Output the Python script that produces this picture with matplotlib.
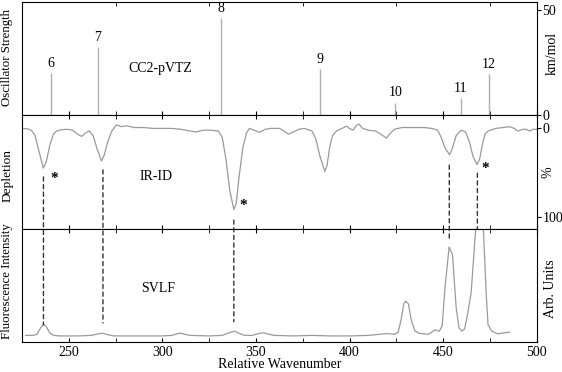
import matplotlib
matplotlib.use('Agg')
import matplotlib.pyplot as plt
from matplotlib.patches import ConnectionPatch
from matplotlib.ticker import MultipleLocator

plt.rcParams['font.family'] = ['Liberation Serif', 'DejaVu Serif']
plt.rcParams['font.size'] = 10

# calculated sticks (CC2-pVTZ)
stick_pos = [240.3, 265.4, 331.4, 384.5, 424.5, 459.4, 474.5]
stick_int = [20, 32.5, 46, 21.7, 6, 8, 19.5]
stick_lab = ['6', '7', '8', '9', '10', '11', '12']

# IR-ID depletion trace
dep_x = [225, 228, 230, 232, 234, 236.4, 238, 240, 242, 243.5, 246, 249, 252, 255, 257, 259,
         261, 263, 265, 267.5, 269, 271, 273, 275.5, 278, 281, 285, 290, 295, 300, 305, 310,
         315, 318, 322, 326, 330, 332, 334, 336, 338.2, 339.5, 341, 343, 345, 346.5, 349, 352,
         355, 358, 362.7, 365, 367.4, 370, 373, 376, 380, 382, 384, 386.8, 388, 389.5, 391,
         393, 396, 398.4, 400, 401.9, 403.5, 405, 407, 410, 414, 417, 419.7, 422, 424, 428,
         435, 440, 444, 447, 449, 451, 453.5, 455, 457, 459.7, 462, 464, 466, 468.1, 469.5,
         471, 472.5, 474, 478, 482, 485.5, 488, 490, 492.6, 494.5, 496.2, 498, 500]
dep_y = [0, 0.5, 2, 8, 25, 45, 38, 18, 6, 3, 1.5, 1, 2, 7, 9, 5,
         3, 8, 22, 37, 30, 14, 3, -4, -2, -3, -1, -1, 0, 0, 0, 1,
         3, 4, 2, 2, 3, 10, 35, 70, 92, 85, 55, 22, 5, 0, 2, 4.5,
         1, 0, 0, 3, 6.5, 4, 1, 0, 3, 12, 30, 49, 42, 20, 8,
         3, 0, -2.6, 0, 2, -3, -5, 0, 2, 3, 7, 11, 5, 1, -1,
         -1, -1, 0, 2, 10, 22, 30, 22, 8, 2, 4, 15, 32, 41, 35,
         18, 6, 3, 0, -1, -2, 0, 3, 1, 1, 3, 1, 1]
asterisks = [(242, 57), (343.2, 88), (472.6, 45.5)]

# SVLF trace
flu_x = [227, 231, 233, 235, 236.5, 238, 240, 242, 245, 255, 262, 266, 268, 270, 274, 285,
         300, 305, 308, 310, 312, 315, 325, 332, 335, 338.5, 341, 344, 348, 351, 354, 357,
         360, 370, 380, 390, 400, 410, 416, 420, 424, 426, 427.5, 429, 430, 431.5, 433, 435,
         437, 442, 444, 445.5, 448, 449.5, 451, 453.2, 455, 457, 458.5, 460, 461.5, 463, 465,
         467, 468.5, 470, 471.5, 473, 474, 476, 479.3, 483, 485.5]
flu_y = [1, 1, 2, 8, 11.3, 9, 3, 1, 0.5, 0.5, 1, 2.5, 3, 2, 0.5, 0.5,
         0.5, 1, 2.5, 3, 2, 1, 0.5, 1, 3, 5, 3, 1, 1, 2.5, 3.5, 2,
         1, 0.5, 1, 0.5, 0.5, 1, 2, 2.7, 2, 4, 15, 30, 32.8, 30, 15, 5,
         3, 2, 4, 6, 5, 10, 45, 82.8, 75.8, 26, 8, 5, 7, 20, 41,
         90, 125, 125, 100, 40, 11, 5, 2.4, 3.5, 4]

# dashed connectors: x, depletion start, SVLF end
dash_x = [236.5, 268.3, 338.2, 453.3, 468.3]
dash_top = [55, 47, 104, 41.7, 50.8]
dash_bot = [10.7, 12.5, 13.7, 89, 100]

grey = '#9a9a9a'

fig = plt.figure(figsize=(5.62, 3.72), dpi=100)
gs = fig.add_gridspec(3, 1, left=0.039, right=0.955, top=0.995, bottom=0.081, hspace=0)
ax1 = fig.add_subplot(gs[0])
ax2 = fig.add_subplot(gs[1], sharex=ax1)
ax3 = fig.add_subplot(gs[2], sharex=ax1)

# top: sticks
ax1.vlines(stick_pos, 0, stick_int, color='#b0b0b0', lw=1)
for p, h, t in zip(stick_pos, stick_int, stick_lab):
    ax1.text(p, h + 1.5, t, ha='center', va='bottom')
ax1.text(298.7, 22.4, 'CC2-pVTZ', ha='center', va='center')
ax1.set_ylim(0, 53.8)
ax1.set_yticks([0, 50])

# middle: depletion
ax2.plot(dep_x, dep_y, color=grey, lw=0.9)
for x, y in asterisks:
    ax2.text(x, y, '*', ha='center', va='center', fontsize=11, fontweight='bold')
ax2.text(296.5, 55, 'IR-ID', ha='center', va='center')
ax2.set_ylim(113.6, -15)
ax2.set_yticks([0, 100])

# bottom: SVLF
ax3.plot(flu_x, flu_y, color=grey, lw=0.9)
ax3.text(298, 44.5, 'SVLF', ha='center', va='center')
ax3.set_ylim(-5, 100)
ax3.set_yticks([])

for ax in (ax1, ax2):
    ax.yaxis.tick_right()
    ax.tick_params(axis='y', direction='out', length=3, labelsize=10, pad=1)
for ax in (ax1, ax2, ax3):
    ax.set_xlim(225, 500)
    ax.xaxis.set_major_locator(MultipleLocator(50))
    ax.xaxis.set_minor_locator(MultipleLocator(25))
    ax.tick_params(axis='x', which='both', direction='in', length=3, top=True, bottom=True)
ax1.tick_params(axis='x', labelbottom=False, top=False)
ax2.tick_params(axis='x', labelbottom=False)
ax3.tick_params(axis='x', labelsize=10, pad=3)
ax3.set_xlabel('Relative Wavenumber', labelpad=-1)

# axis titles placed by hand
fig.text(0.013, 1 - 58 / 372, 'Oscillator Strength', rotation=90, ha='center', va='center', fontsize=9.3)
fig.text(0.013, 1 - 176 / 372, 'Depletion', rotation=90, ha='center', va='center', fontsize=9.6)
fig.text(0.013, 1 - 281 / 372, 'Fluorescence Intensity', rotation=90, ha='center', va='center', fontsize=9.3)
fig.text(552 / 562, 1 - 53 / 372, 'km/mol', rotation=90, ha='center', va='center')
fig.text(548 / 562, 1 - 172 / 372, '%', rotation=90, ha='center', va='center')
fig.text(550 / 562, 1 - 289 / 372, 'Arb. Units', rotation=90, ha='center', va='center')

for x, y0, y1 in zip(dash_x, dash_top, dash_bot):
    con = ConnectionPatch(xyA=(x, y0), coordsA=ax2.transData, xyB=(x, y1), coordsB=ax3.transData,
                          color='#333333', lw=1, linestyle=(0, (3, 2.5)))
    fig.add_artist(con)

fig.savefig('out.png', dpi=100)
